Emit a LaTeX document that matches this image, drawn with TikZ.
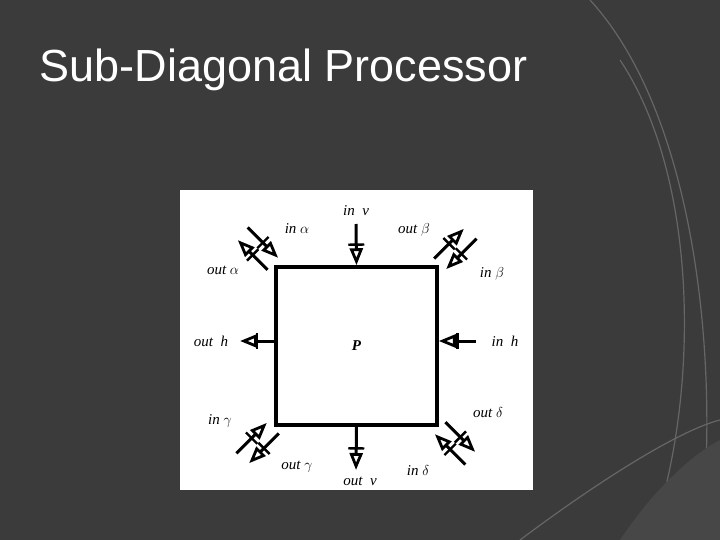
\documentclass[tikz,border=0pt]{standalone}
\usepackage{fontspec}
\setmainfont{Liberation Serif}
\newfontfamily\titlefont{Liberation Sans}
\usetikzlibrary{arrows.meta,decorations.markings}
\begin{document}
\begin{tikzpicture}[x=1pt,y=-1pt,
  arr/.style={line width=3pt,-{Triangle[open,length=17pt,width=13pt,line width=2.8pt]},
    postaction={decorate},decoration={markings,mark=at position 0.5 with {\draw[line width=2.4pt,-] (0,-8pt)--(0,8pt);}}},
  lbl/.style={font=\itshape\fontsize{15}{17}\selectfont,inner sep=1pt}]
\useasboundingbox (0,0) rectangle (720,540);
\fill[black!77] (0,0) rectangle (720,540);
\draw[black!60,line width=1.2pt] (590,0) .. controls (700,120) and (720,380) .. (700,540);
\draw[black!60,line width=1.2pt] (620,60) .. controls (700,180) and (700,400) .. (650,540);
\draw[black!60,line width=1.2pt] (520,540) .. controls (600,480) and (680,430) .. (720,420);
\fill[black!72] (620,540) .. controls (660,480) and (700,450) .. (720,440) -- (720,540) -- cycle;
\node[anchor=west,text=white,font=\titlefont\fontsize{45}{50}\selectfont] (title) at (36,70) {Sub-Diagonal Processor};
\fill[white] (180,190) rectangle (533,490);
\node[draw,line width=3.5pt,minimum width=161pt,minimum height=158pt,inner sep=0pt] (P) at (356.5,346) {\textbf{\textit{\fontsize{15}{17}\selectfont P}}};
% straight arrows
\coordinate (v1) at (356,224); \draw[arr] (v1) -- (P.north);
\coordinate (v2) at (356,470); \draw[arr] (P.south) -- (v2);
\coordinate (h1) at (240,341); \draw[arr] (P.west |- h1) -- (h1);
\coordinate (h2) at (476,341); \draw[arr] (h2) -- (P.east |- h2);
% corner pairs
\newcommand\cpair[6]{%
  \draw[arr] ({#1+8*#5+4*#3},{#2+8*#6+4*#4}) -- ({#1+8*#5+46*#3},{#2+8*#6+46*#4});
  \draw[arr] ({#1-8*#5+48*#3},{#2-8*#6+48*#4}) -- ({#1-8*#5+5*#3},{#2-8*#6+5*#4});}
\cpair{276}{267}{-0.707}{-0.707}{-0.707}{0.707}
\cpair{437}{267}{0.707}{-0.707}{-0.707}{-0.707}
\cpair{437}{425}{0.707}{0.707}{0.707}{-0.707}
\cpair{276}{425}{-0.707}{0.707}{0.707}{0.707}
\node[lbl] (l1) at (356,211) {in\ \ v};
\node[lbl] (l2) at (360,481) {out\ \ v};
\node[lbl] (l3) at (211,341) {out\ \ h};
\node[lbl] (l4) at (505,341) {in\ \ h};
\node[lbl] (l5) at (297,229) {in\ \upshape$\alpha$};
\node[lbl] (l6) at (223,270) {out\ \upshape$\alpha$};
\node[lbl] (l7) at (414,230) {out\ \upshape$\beta$};
\node[lbl] (l8) at (492,274) {in\ \upshape$\beta$};
\node[lbl] (l9) at (220,421) {in\ \upshape$\gamma$};
\node[lbl] (l10) at (297,467) {out\ \upshape$\gamma$};
\node[lbl] (l11) at (488,413) {out\ \upshape$\delta$};
\node[lbl] (l12) at (418,470) {in\ \upshape$\delta$};
\end{tikzpicture}
\end{document}
